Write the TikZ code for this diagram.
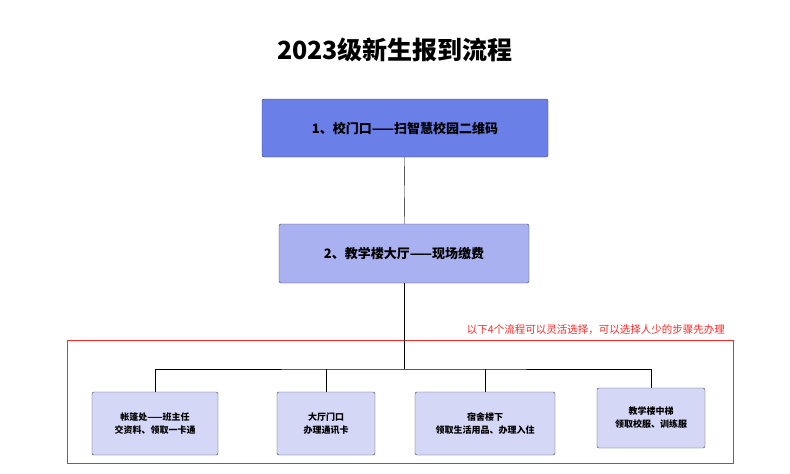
\documentclass[tikz,border=0pt]{standalone}
\usepackage{fontspec}
\setmainfont{Noto Sans CJK SC}
\usetikzlibrary{positioning}
\definecolor{topblue}{HTML}{6B7FE8}
\definecolor{midblue}{HTML}{AAB1F1}
\definecolor{lowblue}{HTML}{D5D7F7}
\tikzset{%
  % Specifications for style of nodes:
      base/.style = {rectangle, rounded corners=2pt, draw=black!75,
                     text centered, align=center, inner sep=2pt},
   stageup/.style = {base, fill=topblue, minimum width=286pt,
                     minimum height=58pt, font=\bfseries\fontsize{13}{15}\selectfont},
  stagemid/.style = {base, fill=midblue, minimum width=250pt,
                     minimum height=59pt, font=\bfseries\fontsize{13}{15}\selectfont},
    choice/.style = {base, fill=lowblue, minimum height=63pt,
                     font=\bfseries\fontsize{9}{13}\selectfont},
}
\begin{document}
\begin{tikzpicture}[x=1pt, y=-1pt]
\useasboundingbox (0,0) rectangle (790,474);

\node (Title) at (395,50) {\bfseries\fontsize{25}{28}\selectfont 2023级新生报到流程};

\node (Gate)   [stageup]  at (405,128) {1、校门口——扫智慧校园二维码};
\node (Hall)   [stagemid] at (404,253.5) {2、教学楼大厅——现场缴费};

\node (Tent)   [choice, minimum width=126pt] at (155,423.5) {帐篷处——班主任\\交资料、领取一卡通};
\node (Door)   [choice, minimum width=98pt]  at (326,423.5) {大厅门口\\办理通讯卡};
\node (Dorm)   [choice, minimum width=140pt] at (485,423.5) {宿舍楼下\\领取生活用品、办理入住};
\node (Lift)   [choice, minimum width=108pt, minimum height=60pt] at (651,418) {教学楼中梯\\领取校服、训练服};

\coordinate (Bus) at (404,369);

\draw[red!85, thick] (67,340) rectangle (733,463);
\node (Note) [anchor=south east, text=red!85, font=\fontsize{10.5}{12}\selectfont, inner sep=1pt] at (726,336) {以下4个流程可以灵活选择，可以选择人少的步骤先办理};

\draw (Gate) -- (Hall);
\draw (Hall.south) -- (Bus);
\draw (Tent.north) |- (Bus) -| (Lift.north);
\draw (Door.north) -- (Door.north |- Bus);
\draw (Dorm.north) -- (Dorm.north |- Bus);
\end{tikzpicture}
\end{document}
